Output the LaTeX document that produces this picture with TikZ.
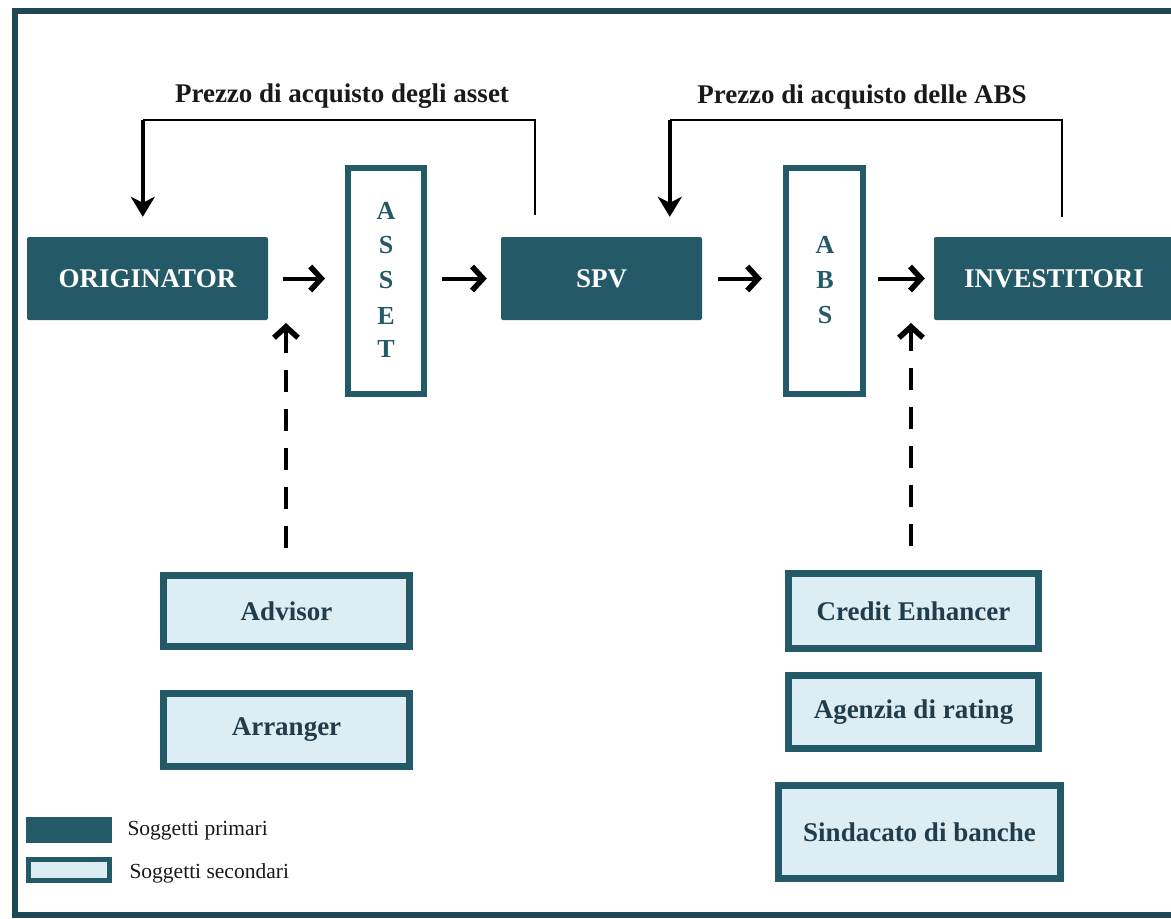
\documentclass[tikz,border=0pt]{standalone}
\usepackage{fontspec}
\setmainfont{Liberation Serif}
\usetikzlibrary{arrows.meta,calc}
\definecolor{prim}{HTML}{245A68}
\definecolor{frame}{HTML}{1E4854}
\definecolor{secfill}{HTML}{DCEDF3}
\definecolor{sectext}{HTML}{213C4A}
\begin{document}
\begin{tikzpicture}[x=1pt,y=-1pt,
  primbox/.style={draw=none,fill=prim,rounded corners=2pt,text=white,font=\fontsize{27}{30}\selectfont\bfseries,minimum height=83pt,inner sep=0pt},
  secbox/.style={draw=prim,line width=7pt,fill=secfill,text=sectext,font=\fontsize{27}{30}\selectfont\bfseries,inner sep=0pt},
  vbox/.style={draw=prim,line width=6pt,fill=white,inner sep=0pt,minimum width=76pt,minimum height=226pt},
  vlet/.style={text=prim,font=\fontsize{26}{28}\selectfont\bfseries},
  flow/.style={draw=black,line width=4pt,-{Straight Barb[length=11pt,width=24pt,line width=5.5pt]}},
  fbline/.style={draw=black,line width=2pt},
  fbarrow/.style={draw=black,line width=4pt,-{Stealth[length=20pt,width=24pt,inset=6pt]}},
  dflow/.style={draw=black,line width=4pt,dash pattern=on 22pt off 17pt,-{Straight Barb[length=11pt,width=24pt,line width=5.5pt]}},
  lbl/.style={text=black!90,font=\fontsize{27}{30}\selectfont\bfseries},
  leg/.style={text=black!90,font=\fontsize{21.5}{24}\selectfont,anchor=west}
]
\useasboundingbox (0,0) rectangle (1171,919);
\begin{scope}
\clip (0,0) rectangle (1171,919);
\draw[frame,line width=6pt] (15,11) rectangle (1190,915);

% primary nodes
\node[primbox,minimum width=241pt] (orig) at (147.5,278.5) {ORIGINATOR};
\node[primbox,minimum width=201pt] (spv) at (601.5,278.5) {SPV};
\node[primbox,minimum width=240pt] (inv) at (1054,278.5) {INVESTITORI};

% vertical boxes
\node[vbox] (asset) at (386,281) {};
\node[vbox,minimum width=77pt] (abs) at (824.5,281) {};
\node[vlet] (a1) at (386,211) {A};
\node[vlet] (a2) at (386,245) {S};
\node[vlet] (a3) at (386,280) {S};
\node[vlet] (a4) at (386,316) {E};
\node[vlet] (a5) at (386,349) {T};
\node[vlet] (b1) at (825,245) {A};
\node[vlet] (b2) at (825,280) {B};
\node[vlet] (b3) at (825,315) {S};

% secondary nodes
\node[secbox,minimum width=246pt,minimum height=71pt] (adv) at (286.5,611) {Advisor};
\node[secbox,minimum width=246pt,minimum height=73pt] (arr) at (286.5,730) {Arranger};
\node[secbox,minimum width=250pt,minimum height=75pt] (ce) at (913.5,611) {Credit Enhancer};
\node[secbox,minimum width=250pt,minimum height=73pt] (ag) at (913.5,712) {Agenzia di rating};
\node[secbox,minimum width=282pt,minimum height=93pt] (sb) at (919.5,832) {Sindacato di banche};

% main flow
\draw[flow,shorten <=15pt,shorten >=20pt] (orig.east) -- (orig.east -| asset.west);
\draw[flow,shorten <=15pt,shorten >=14pt] (asset.east |- spv.west) -- (spv.west);
\draw[flow,shorten <=16pt,shorten >=21pt] (spv.east) -- (spv.east -| abs.west);
\draw[flow,shorten <=12pt,shorten >=9pt] (abs.east |- inv.west) -- (inv.west);

% feedback
\coordinate (c1) at ($(orig.north west)+(116,-117)$);
\coordinate (c2) at ($(spv.north west)+(169,-117)$);
\draw[fbline] ($(spv.north west)+(34,-22)$) |- (c1);
\draw[fbarrow] (c1) -- ($(orig.north west)+(116,-20)$);
\draw[fbline] ($(inv.north west)+(128,-20)$) |- (c2);
\draw[fbarrow] (c2) -- ($(spv.north west)+(169,-20)$);
\node[lbl] (l1) at (342,96) {Prezzo di acquisto degli asset};
\node[lbl] (l2) at (862,97) {Prezzo di acquisto delle ABS};

% dashed support arrows
\coordinate (t1) at (286,323);
\coordinate (t2) at (911,323);
\draw[dflow] ($(adv.north)+(-0.5,-24)$) -- (t1);
\draw[dflow] ($(ce.north)+(-2.5,-24)$) -- (t2);

% legend
\node[fill=prim,minimum width=86pt,minimum height=26pt,inner sep=0pt] (lp) at (69,830) {};
\node[draw=prim,line width=5pt,fill=secfill,minimum width=81pt,minimum height=21pt,inner sep=0pt] (ls) at (69,870) {};
\node[leg] (lpt) at (124,831) {Soggetti primari};
\node[leg] (lst) at (126,873) {Soggetti secondari};
\end{scope}
\end{tikzpicture}
\end{document}
